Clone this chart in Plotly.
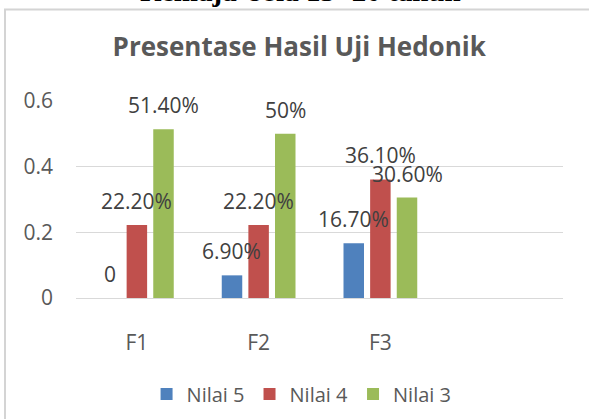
import plotly.graph_objects as go

categories = ["F1", "F2", "F3"]
nilai5 = [0.0, 0.069, 0.167]
nilai4 = [0.222, 0.222, 0.361]
nilai3 = [0.514, 0.50, 0.306]
labels5 = ["0", "6.90%", "16.70%"]
labels4 = ["22.20%", "22.20%", "36.10%"]
labels3 = ["51.40%", "50%", "30.60%"]
series_names = ["Nilai 5", "Nilai 4", "Nilai 3"]
colors = ["#4f81bd", "#c0504d", "#9bbb59"]
y_ticks = [0, 0.2, 0.4, 0.6]
y_tick_text = ["0", "0.2", "0.4", "0.6"]

FONT = "Open Sans"
fig = go.Figure()
all_vals = [nilai5, nilai4, nilai3]
all_labs = [labels5, labels4, labels3]
for name, vals, col in zip(series_names, all_vals, colors):
    fig.add_trace(go.Bar(x=categories, y=vals, name=name, marker_color=col,
                         marker_line_width=0))

# data labels on top of every bar (offset to each bar's slot in the group)
slot_px = 27
for i, (vals, labs) in enumerate(zip(all_vals, all_labs)):
    for cat, v, lab in zip(categories, vals, labs):
        fig.add_annotation(x=cat, y=v, text=lab, showarrow=False,
                           xanchor="center", yanchor="middle",
                           xshift=(i - 1) * slot_px, yshift=24,
                           font=dict(family=FONT, size=21, color="#404040"))

fig.update_layout(
    width=589, height=419,
    margin=dict(l=76, r=26, t=101, b=121, autoexpand=False),
    paper_bgcolor="white", plot_bgcolor="white",
    barmode="group", bargap=0.344, bargroupgap=0.23,
    title=dict(text="<b>Presentase Hasil Uji Hedonik</b>", x=0.508, xanchor="center",
               y=1 - 47 / 419, yanchor="middle",
               font=dict(family=FONT, size=26, color="#595959")),
    legend=dict(orientation="h", xref="container", yref="container",
                x=0.512, xanchor="center", y=1 - 394 / 419, yanchor="middle",
                font=dict(family=FONT, size=20, color="#595959"),
                itemwidth=30, traceorder="normal", tracegroupgap=0),
    showlegend=True,
)
fig.update_xaxes(type="category", range=[-0.5, 3.5], showgrid=False, automargin=False,
                 showline=True, linecolor="#d9d9d9", linewidth=1,
                 ticks="", ticklabelstandoff=26,
                 tickfont=dict(family=FONT, size=21, color="#595959"))
fig.update_yaxes(range=[0, 0.6], tickvals=y_ticks, ticktext=y_tick_text, automargin=False,
                 showgrid=True, gridcolor="#d9d9d9", gridwidth=1,
                 zeroline=False, showline=False, ticks="", ticklabelstandoff=22,
                 tickfont=dict(family=FONT, size=21, color="#595959"))

# chart border
fig.add_shape(type="rect", xref="paper", yref="paper",
              x0=(5 - 76) / 487, x1=(600 - 76) / 487,
              y0=(298 - 430) / 197, y1=(298 - 9.5) / 197,
              line=dict(color="#d4d4d4", width=2), fillcolor="rgba(0,0,0,0)", layer="above")

# cropped heading above chart
fig.add_annotation(text="<b>Remaja Usia 15 -20 tahun</b>", xref="paper", yref="paper",
                   x=(300 - 76) / 487, y=(298 + 8.5) / 197, xanchor="center", yanchor="middle",
                   showarrow=False, font=dict(family="Liberation Serif", size=29, color="black"))

fig.write_html("out.html", config={"displayModeBar": False},
               post_script="document.body.style.margin='0';document.body.style.overflow='hidden';")
